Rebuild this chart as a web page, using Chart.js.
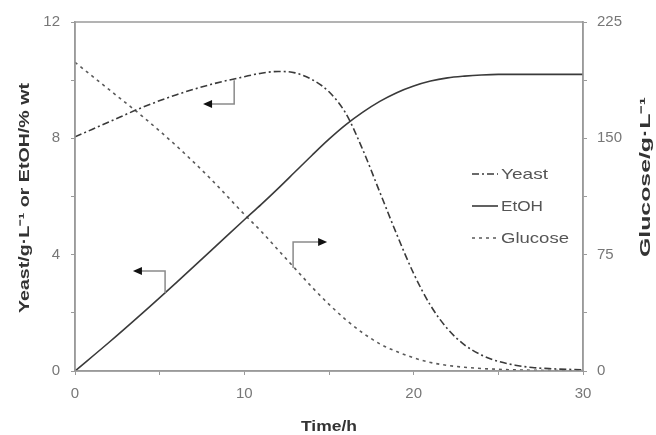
<!DOCTYPE html>
<html>
<head>
<meta charset="utf-8">
<script src="https://cdn.jsdelivr.net/npm/chart.js@4.4.1/dist/chart.umd.min.js"></script>
<style>
  html, body { margin: 0; padding: 0; background: #fff; }
  #c { display: block; }
</style>
</head>
<body>
<canvas id="c" width="656" height="435"></canvas>
<script>
// ---- data ----
const times   = [0, 2, 4, 6, 8, 10, 11, 12, 13, 14, 15, 16, 17, 18, 19, 20, 21, 22, 23, 24, 25, 26, 27, 28, 30];
const yeast   = [8.05, 8.56, 9.07, 9.5, 9.85, 10.12, 10.24, 10.3, 10.25, 10.02, 9.6, 8.85, 7.6, 6.15, 4.7, 3.35, 2.25, 1.45, 0.9, 0.55, 0.33, 0.2, 0.12, 0.08, 0.04];
const etoh    = [0, 0.98, 2.0, 3.05, 4.12, 5.2, 5.73, 6.28, 6.85, 7.42, 7.97, 8.47, 8.9, 9.27, 9.57, 9.8, 9.97, 10.08, 10.14, 10.18, 10.2, 10.2, 10.2, 10.2, 10.2];
const glucose = [199, 181.5, 164, 145, 124, 101, 90, 78, 66, 54, 43, 33, 24.5, 17.5, 12.5, 8.5, 5.5, 3.6, 2.4, 1.6, 1.1, 0.7, 0.5, 0.3, 0.1];

const seriesNames = ['Yeast', 'EtOH', 'Glucose'];
const xTickLabels = [0, 10, 20, 30];
const leftTickLabels = [0, 4, 8, 12];
const rightTickLabels = [0, 75, 150, 225];

// annotation arrows (data units): vertical from y0 to y1 at x, then horizontal to x1
const arrows = [
  { x: 9.4,   y0: 10.0, y1: 9.18, x1: 7.68,  axis: 'y'  },
  { x: 5.32,  y0: 2.68, y1: 3.44, x1: 3.54,  axis: 'y'  },
  { x: 12.88, y0: 66.4, y1: 83.2, x1: 14.77, axis: 'y2' }
];

const toXY = (xs, ys) => xs.map((t, i) => ({ x: t, y: ys[i] }));

const FONT = "'Liberation Sans', Arial, sans-serif";
const AXIS = '#9a9a9a';

function stretchedText(ctx, text, cx, cy, rot, len) {
  ctx.save();
  ctx.translate(cx, cy);
  ctx.rotate(rot);
  const w = ctx.measureText(text).width;
  ctx.scale(len / w, 1);
  ctx.fillText(text, 0, 0);
  ctx.restore();
}

const frame = {
  id: 'frame',
  afterDraw(chart) {
    const { ctx, chartArea: a, scales } = chart;
    ctx.save();
    // box
    ctx.strokeStyle = AXIS; ctx.lineWidth = 1.5;
    ctx.strokeRect(a.left, a.top, a.right - a.left, a.bottom - a.top);
    // arrows
    arrows.forEach(ar => {
      const ys = scales[ar.axis];
      const px = scales.x.getPixelForValue(ar.x);
      const py0 = ys.getPixelForValue(ar.y0);
      const py1 = ys.getPixelForValue(ar.y1);
      const px1 = scales.x.getPixelForValue(ar.x1);
      ctx.strokeStyle = '#8a8a8a'; ctx.lineWidth = 1.5; ctx.setLineDash([]);
      ctx.beginPath(); ctx.moveTo(px, py0); ctx.lineTo(px, py1); ctx.lineTo(px1, py1); ctx.stroke();
      const dir = px1 < px ? -1 : 1;
      ctx.fillStyle = '#111';
      ctx.beginPath();
      ctx.moveTo(px1 + dir * 2, py1);
      ctx.lineTo(px1 - dir * 7, py1 - 4);
      ctx.lineTo(px1 - dir * 7, py1 + 4);
      ctx.closePath(); ctx.fill();
    });
    // legend
    const ds = chart.data.datasets;
    const lx = a.left + 397, ly = [174, 206, 238];
    const legendLen = [47, 42, 68];
    ds.forEach((d, i) => {
      ctx.strokeStyle = d.borderColor; ctx.lineWidth = d.borderWidth;
      ctx.setLineDash(d.borderDash || []);
      ctx.beginPath(); ctx.moveTo(lx, ly[i]); ctx.lineTo(lx + 26, ly[i]); ctx.stroke();
      ctx.setLineDash([]);
      ctx.fillStyle = '#555'; ctx.font = '15px ' + FONT;
      ctx.textAlign = 'left'; ctx.textBaseline = 'middle';
      stretchedText(ctx, d.label, lx + 29, ly[i] + 1, 0, legendLen[i]);
    });
    // axis titles
    ctx.fillStyle = '#333'; ctx.font = 'bold 15px ' + FONT;
    ctx.textAlign = 'center'; ctx.textBaseline = 'middle';
    stretchedText(ctx, 'Time/h', (a.left + a.right) / 2, 427, 0, 56);
    stretchedText(ctx, 'Yeast/g·L\u207B\u00B9 or EtOH/% wt', 25, 198, -Math.PI / 2, 230);
    stretchedText(ctx, 'Glucose/g·L\u207B\u00B9', 646, 177, -Math.PI / 2, 160);
    ctx.restore();
  }
};

const tickFont = { family: FONT, size: 15 };
const gridOpt = { drawOnChartArea: false, drawTicks: true, tickLength: 4, color: AXIS, lineWidth: 1 };

new Chart(document.getElementById('c'), {
  type: 'line',
  data: {
    datasets: [
      { label: seriesNames[0], data: toXY(times, yeast), yAxisID: 'y', borderColor: '#3a3a3a', borderWidth: 1.6, borderDash: [7, 3, 2, 3], pointRadius: 0, cubicInterpolationMode: 'monotone', fill: false },
      { label: seriesNames[1], data: toXY(times, etoh), yAxisID: 'y', borderColor: '#3a3a3a', borderWidth: 1.6, pointRadius: 0, cubicInterpolationMode: 'monotone', fill: false },
      { label: seriesNames[2], data: toXY(times, glucose), yAxisID: 'y2', borderColor: '#5a5a5a', borderWidth: 1.6, borderDash: [3, 4], pointRadius: 0, cubicInterpolationMode: 'monotone', fill: false }
    ]
  },
  options: {
    responsive: false,
    animation: false,
    layout: { padding: { top: 22, left: 0, right: 0, bottom: 0 } },
    plugins: { legend: { display: false }, tooltip: { enabled: false } },
    scales: {
      x: {
        type: 'linear', min: 0, max: 30,
        ticks: { stepSize: 5, color: '#777', font: tickFont, padding: 10, maxRotation: 0,
                 callback: v => xTickLabels.includes(v) ? String(v) : '' },
        grid: gridOpt, border: { color: AXIS, width: 1.5 },
        afterFit: s => { s.height = 64; }
      },
      y: {
        position: 'left', min: 0, max: 12,
        ticks: { stepSize: 2, color: '#777', font: tickFont, padding: 11,
                 callback: v => leftTickLabels.includes(v) ? String(v) : '' },
        grid: gridOpt, border: { color: AXIS, width: 1.5 },
        afterFit: s => { s.width = 75; }
      },
      y2: {
        position: 'right', min: 0, max: 225,
        ticks: { stepSize: 37.5, color: '#777', font: tickFont, padding: 10,
                 callback: v => rightTickLabels.includes(v) ? String(v) : '' },
        grid: gridOpt, border: { color: AXIS, width: 1.5 },
        afterFit: s => { s.width = 73; }
      }
    }
  },
  plugins: [frame]
});
</script>
</body>
</html>
